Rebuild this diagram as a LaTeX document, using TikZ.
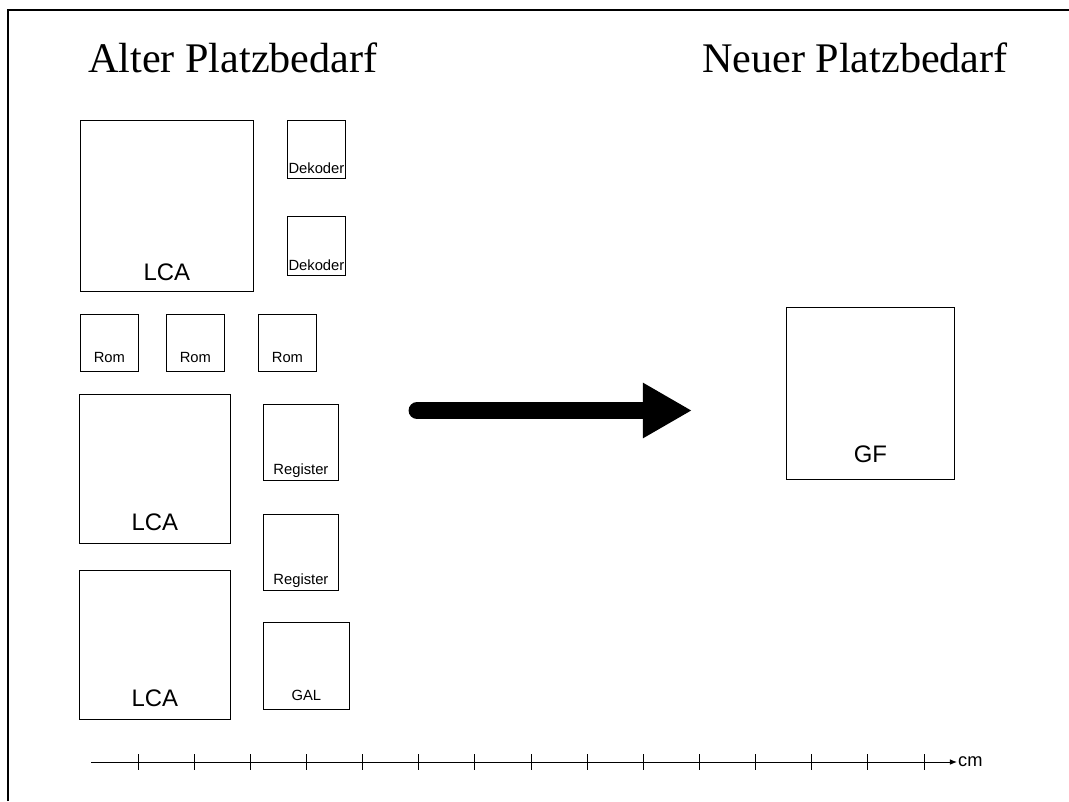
\documentclass[tikz,border=0pt]{standalone}
\usepackage{fontspec}
\setmainfont{Liberation Serif}
\newfontfamily\labfont{Liberation Sans}
\usepackage{tikz}
\usetikzlibrary{arrows.meta,positioning}

\newcommand\pxl{0.025cm}

\begin{document}
\begin{tikzpicture}[
        x=0.025cm, y=-0.025cm,
        box/.style 2 args={draw, line width=0.6pt, inner sep=0pt, anchor=north west,
            minimum width=#1*\pxl, minimum height=#2*\pxl},
        title/.style={font=\fontsize{30}{32}\selectfont, inner sep=0pt, anchor=base west},
        bigtxt/.style={font=\labfont\fontsize{17}{19}\selectfont, inner sep=0pt, anchor=base},
        smalltxt/.style={font=\labfont\fontsize{10.5}{12}\selectfont, inner sep=0pt, anchor=base},
        tick/.style={line width=0.6pt}
    ]
        \useasboundingbox (0,0) rectangle (1069,801);
        % frame
        \draw[line width=1.2pt] (8,801) -- (8,10) -- (1069,10);

        \node[title] (alt) at (88,73) {Alter Platzbedarf};
        \node[title, anchor=base east] (neu) at (1008,73) {Neuer Platzbedarf};

        % old parts
        \node[box={173}{171}, label={[bigtxt, yshift=11*\pxl]south:LCA}] (lca1) at (80,120) {};
        \node[box={58}{58}, label={[smalltxt, yshift=5*\pxl]south:Dekoder}] (dek1) at (287,120) {};
        \node[box={58}{59}, label={[smalltxt, yshift=5*\pxl]south:Dekoder}] (dek2) at (287,216) {};
        \node[box={58}{57}, label={[smalltxt, yshift=9*\pxl]south:Rom}] (rom1) at (80,314) {};
        \node[box={58}{57}, label={[smalltxt, yshift=9*\pxl]south:Rom}] (rom2) at (166,314) {};
        \node[box={58}{57}, label={[smalltxt, yshift=9*\pxl]south:Rom}] (rom3) at (258,314) {};
        \node[box={151}{149}, label={[bigtxt, yshift=13*\pxl]south:LCA}] (lca2) at (79,394) {};
        \node[box={75}{76}, label={[smalltxt, yshift=6*\pxl]south:Register}] (reg1) at (263,404) {};
        \node[box={75}{76}, label={[smalltxt, yshift=6*\pxl]south:Register}] (reg2) at (263,514) {};
        \node[box={151}{149}, label={[bigtxt, yshift=13*\pxl]south:LCA}] (lca3) at (79,570) {};
        \node[box={86}{87}, label={[smalltxt, yshift=9*\pxl]south:GAL}] (gal) at (263,622) {};

        % new part
        \node[box={168}{172}, label={[bigtxt, yshift=17*\pxl]south:GF}] (gf) at (786,307) {};

        % big arrow
        \coordinate (arrS) at (417,410.5);
        \coordinate (arrE) at (692,410.5);
        \draw[line width=12pt, line cap=round, -{Triangle[length=35pt, width=37pt]}] (arrS) -- (arrE);

        % scale
        \coordinate (ax0) at (91,762);
        \coordinate (ax1) at (957,762);
        \draw[line width=0.7pt, -{Latex[length=5pt, width=4pt]}] (ax0) -- (ax1)
            node[right, inner sep=0.5pt, font=\labfont\fontsize{13}{14}\selectfont] (cm) {cm};
        \foreach \i in {0,...,14}
            \draw[tick] (138+56.14*\i,754) -- ++(0,16);
    \end{tikzpicture}
\end{document}
